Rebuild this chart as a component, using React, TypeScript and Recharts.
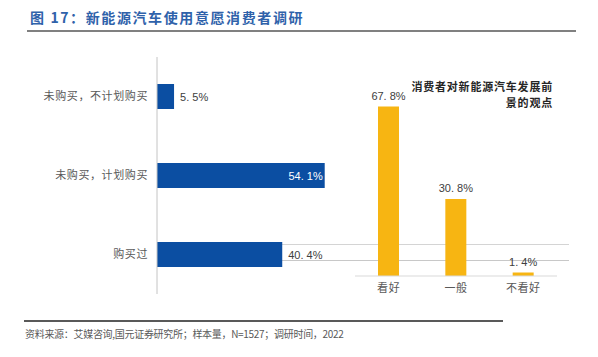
import { BarChart, Bar, XAxis, YAxis, LabelList } from 'recharts';

// 购买意愿 (left chart)
const intentCategories = ['未购买，不计划购买', '未购买，计划购买', '购买过'];
const intentValues = [5.5, 54.1, 40.4];

// 发展前景看法 (right chart)
const outlookCategories = ['看好', '一般', '不看好'];
const outlookValues = [67.8, 30.8, 1.4];

const intentData = intentCategories.map((name, i) => ({ name, value: intentValues[i] }));
const outlookData = outlookCategories.map((name, i) => ({ name, value: outlookValues[i] }));

const BLUE = '#0b4ea2';
const YELLOW = '#f7b512';
const CJK = '"Noto Sans CJK SC", "Noto Sans", sans-serif';
const NUM = '"Liberation Sans", Arial, sans-serif';

// value text with the wide full-stop look of the original
const fmt = (v: number) => v.toFixed(1).replace('.', '. ') + '%';

// labels on the horizontal bars: inside (white) when the bar is long, else outside
const IntentLabel = (props: any) => {
  const { x, y, width, height, value } = props;
  const inside = value > 50;
  return (
    <text
      x={inside ? x + width - 2 : x + width + 6}
      y={y + height / 2}
      dy={4}
      textAnchor={inside ? 'end' : 'start'}
      fill={inside ? '#ffffff' : '#404040'}
      fontSize={11}
      fontFamily={NUM}
    >
      {fmt(value)}
    </text>
  );
};

const OutlookLabel = (props: any) => {
  const { x, y, width, value } = props;
  return (
    <text
      x={x + width / 2}
      y={y - 7}
      textAnchor="middle"
      fill="#404040"
      fontSize={11}
      fontFamily={NUM}
    >
      {fmt(value)}
    </text>
  );
};

export default function App() {
  return (
    <div
      style={{
        position: 'absolute',
        left: 0,
        top: 0,
        width: 598,
        height: 357,
        background: '#fff',
        overflow: 'hidden',
        fontFamily: CJK,
      }}
    >
      {/* title */}
      <div
        style={{
          position: 'absolute',
          left: 30,
          top: 7,
          fontSize: 14,
          fontWeight: 700,
          letterSpacing: 1.6,
          color: '#2f62aa',
          whiteSpace: 'nowrap',
          lineHeight: '20px',
        }}
      >
        图 17：新能源汽车使用意愿消费者调研
      </div>
      <div style={{ position: 'absolute', left: 27, top: 30, width: 549, height: 2, background: '#808080' }} />

      {/* stray gridlines crossing both panels */}
      <div style={{ position: 'absolute', left: 282, top: 244, width: 287, height: 1, background: '#d4d4d4' }} />
      <div style={{ position: 'absolute', left: 282, top: 260, width: 287, height: 1, background: '#c8c8c8' }} />

      <div style={{ position: 'absolute', left: 0, top: 0 }}>
        <BarChart
          width={350}
          height={300}
          data={intentData}
          layout="vertical"
          margin={{ top: 57, right: 7, bottom: 6, left: 0 }}
        >
          <XAxis type="number" domain={[0, 60]} hide />
          <YAxis
            type="category"
            dataKey="name"
            width={157}
            tickLine={false}
            tickSize={0}
            tickMargin={9}
            axisLine={{ stroke: '#c4c4c4' }}
            tick={{ fill: '#595959', fontSize: 11, fontFamily: CJK, letterSpacing: 0.6 }}
          />
          <Bar dataKey="value" fill={BLUE} barSize={25} isAnimationActive={false}>
            <LabelList dataKey="value" content={IntentLabel} />
          </Bar>
        </BarChart>
      </div>

      <div style={{ position: 'absolute', left: 340, top: 0 }}>
        <BarChart
          width={258}
          height={300}
          data={outlookData}
          margin={{ top: 76, right: 41, bottom: 0, left: 15 }}
        >
          <YAxis type="number" domain={[0, 80]} hide />
          <XAxis
            dataKey="name"
            height={24}
            tickLine={false}
            tickSize={0}
            tickMargin={8}
            axisLine={{ stroke: '#d9d9d9' }}
            tick={{ fill: '#595959', fontSize: 11, fontFamily: CJK, letterSpacing: 0.6 }}
          />
          <Bar dataKey="value" fill={YELLOW} barSize={21} isAnimationActive={false}>
            <LabelList dataKey="value" content={OutlookLabel} />
          </Bar>
        </BarChart>
      </div>

      {/* right panel title */}
      <div
        style={{
          position: 'absolute',
          right: 45,
          top: 78,
          fontSize: 11,
          fontWeight: 600,
          color: '#262626',
          textAlign: 'right',
          lineHeight: '16px',
          letterSpacing: 0.8,
          whiteSpace: 'nowrap',
        }}
      >
        消费者对新能源汽车发展前
        <br />
        景的观点
      </div>

      {/* source */}
      <div style={{ position: 'absolute', left: 24, top: 320, width: 479, height: 2, background: '#595959' }} />
      <div
        style={{
          position: 'absolute',
          left: 25,
          top: 327,
          fontSize: 10,
          color: '#595959',
          whiteSpace: 'nowrap',
          lineHeight: '14px',
          letterSpacing: -0.3,
        }}
      >
        资料来源：艾媒咨询,国元证券研究所；样本量，N=1527；调研时间，2022
      </div>
    </div>
  );
}
